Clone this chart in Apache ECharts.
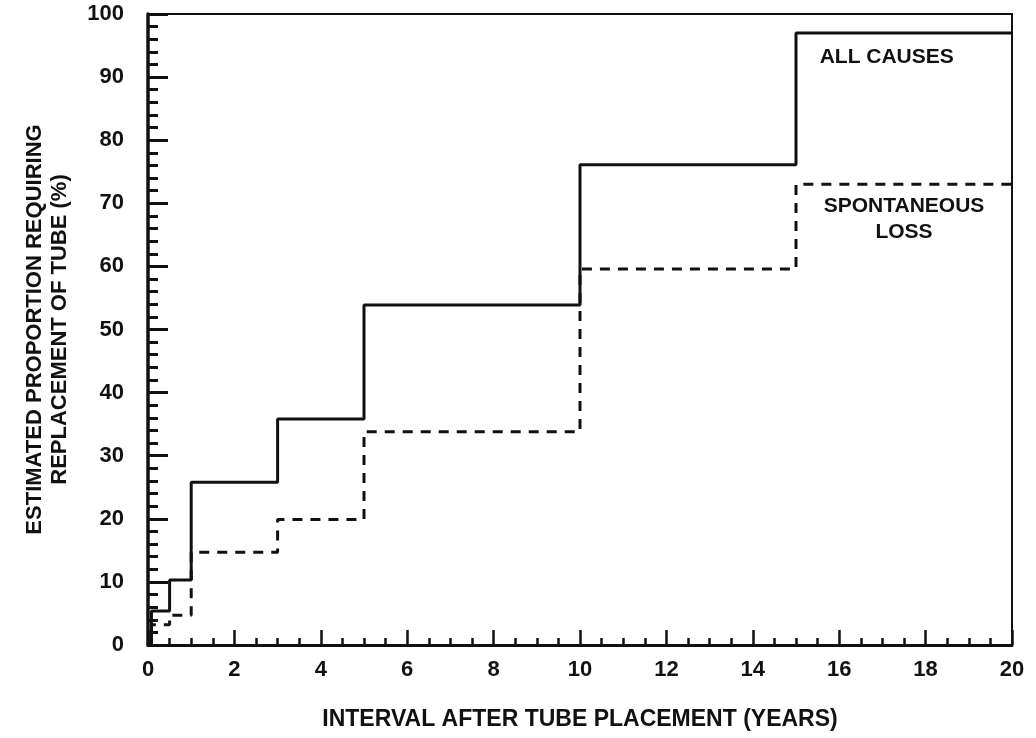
<!DOCTYPE html>
<html>
<head>
<meta charset="utf-8">
<script src="https://cdn.jsdelivr.net/npm/echarts@6/dist/echarts.min.js"></script>
<style>
  html, body { margin: 0; padding: 0; background: #fff; }
  #chart { width: 1036px; height: 738px; }
</style>
</head>
<body>
<div id="chart"></div>
<script>
// tube replacement step curves (years vs %)
const ALL_X = [0, 0.08, 0.5, 1, 3, 5, 10, 15, 20];
const ALL_Y = [0, 5.4, 10.3, 25.8, 35.8, 53.9, 76.1, 97, 97];
const SPONT_X = [0, 0.08, 0.5, 1, 3, 5, 10, 15, 20];
const SPONT_Y = [0, 3.2, 4.7, 14.7, 19.9, 33.8, 59.6, 73, 73];

const X_TICKS = [0, 2, 4, 6, 8, 10, 12, 14, 16, 18, 20];
const Y_TICKS = [0, 10, 20, 30, 40, 50, 60, 70, 80, 90, 100];

const FONT = "'Liberation Sans', Arial, Helvetica, sans-serif";
const INK = "#111";

const pairs = (xs, ys) => xs.map((x, i) => [x, ys[i]]);

const chart = echarts.init(document.getElementById("chart"));

const txt = (size) => ({
    color: INK,
    fontFamily: FONT,
    fontWeight: "bold",
    fontSize: size
});

chart.setOption({
    animation: false,
    backgroundColor: "#fff",
    grid: {
        left: 148, right: 24, top: 14, bottom: 93,
        show: true,
        borderColor: INK,
        borderWidth: 2
    },
    xAxis: {
        type: "value",
        min: X_TICKS[0],
        max: X_TICKS[X_TICKS.length - 1],
        interval: 2,
        name: "INTERVAL AFTER TUBE PLACEMENT (YEARS)",
        nameLocation: "middle",
        nameGap: 63,
        nameTextStyle: txt(23),
        axisLine: { lineStyle: { color: INK, width: 3 } },
        axisTick: { inside: true, length: 15, lineStyle: { color: INK, width: 2.5 } },
        minorTick: { show: true, splitNumber: 4, length: 7, lineStyle: { color: INK, width: 2.5 } },
        splitLine: { show: false },
        axisLabel: Object.assign({ margin: 14 }, txt(22))
    },
    yAxis: {
        type: "value",
        min: Y_TICKS[0],
        max: Y_TICKS[Y_TICKS.length - 1],
        interval: 10,
        name: "ESTIMATED PROPORTION REQUIRING\nREPLACEMENT OF TUBE (%)",
        nameLocation: "middle",
        nameGap: 76,
        nameTextStyle: Object.assign({ lineHeight: 25 }, txt(22)),
        axisLine: { lineStyle: { color: INK, width: 3.5 } },
        axisTick: { inside: true, length: 20, lineStyle: { color: INK, width: 3 } },
        minorTick: { show: true, splitNumber: 5, length: 10, lineStyle: { color: INK, width: 3 } },
        splitLine: { show: false },
        axisLabel: Object.assign({ margin: 24 }, txt(22))
    },
    series: [
        {
            name: "All causes",
            type: "line",
            step: "end",
            data: pairs(ALL_X, ALL_Y),
            showSymbol: false,
            symbol: "none",
            lineStyle: { color: INK, width: 3 },
            markPoint: {
                symbol: "circle",
                symbolSize: 1,
                itemStyle: { color: "transparent" },
                label: Object.assign({ show: true, position: "inside", formatter: "ALL CAUSES" }, txt(21)),
                data: [{ coord: [17.1, 93.2] }]
            }
        },
        {
            name: "Spontaneous loss",
            type: "line",
            step: "end",
            data: pairs(SPONT_X, SPONT_Y),
            showSymbol: false,
            symbol: "none",
            lineStyle: { color: INK, width: 3, type: [10, 8] },
            markPoint: {
                symbol: "circle",
                symbolSize: 1,
                itemStyle: { color: "transparent" },
                label: Object.assign({
                    show: true, position: "inside", lineHeight: 26, align: "center",
                    formatter: "SPONTANEOUS\nLOSS"
                }, txt(21)),
                data: [{ coord: [17.5, 67.5] }]
            }
        }
    ]
});
</script>
</body>
</html>
